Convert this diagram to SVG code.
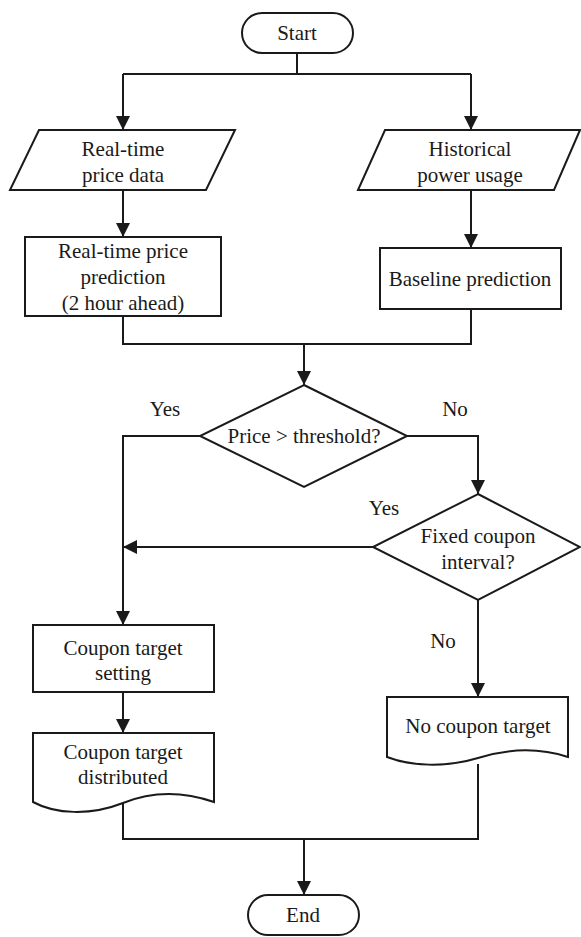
<svg xmlns="http://www.w3.org/2000/svg" width="581" height="937" viewBox="0 0 581 937">
<defs>
<marker id="arr" viewBox="0 0 14 14" refX="14" refY="7" markerWidth="14" markerHeight="14" markerUnits="userSpaceOnUse" orient="auto">
<path d="M0,0 L14,7 L0,14 Z" fill="#1a1a1a"/>
</marker>
<style>
.s{fill:#fff;stroke:#1a1a1a;stroke-width:2}
.c{fill:none;stroke:#1a1a1a;stroke-width:2}
text{font-family:Liberation Serif,DejaVu Serif,serif;font-size:21px;fill:#1a1a1a;text-anchor:middle}
</style>
</defs>
<rect width="581" height="937" fill="#fff"/>
<g id="connectors">
<path class="c" d="M297,53 V74 M123,74 H471"/>
<path class="c" d="M123,74 V130" marker-end="url(#arr)"/>
<path class="c" d="M471,74 V130" marker-end="url(#arr)"/>
<path class="c" d="M123,190 V237" marker-end="url(#arr)"/>
<path class="c" d="M471,190 V248" marker-end="url(#arr)"/>
<path class="c" d="M123,316 V344 H471 V309"/>
<path class="c" d="M304,344 V385" marker-end="url(#arr)"/>
<path class="c" d="M200,436 H123 V625" marker-end="url(#arr)"/>
<path class="c" d="M407,436 H478 V494" marker-end="url(#arr)"/>
<path class="c" d="M373,547 H123" marker-end="url(#arr)"/>
<path class="c" d="M478,600 V697" marker-end="url(#arr)"/>
<path class="c" d="M123,692 V733" marker-end="url(#arr)"/>
<path class="c" d="M123,803 V839 H478 V764"/>
<path class="c" d="M304,839 V895" marker-end="url(#arr)"/>
<text x="165" y="416">Yes</text>
<text x="455" y="416">No</text>
<text x="384" y="515">Yes</text>
<text x="443" y="648">No</text>
</g>
<g id="start">
<rect class="s" x="242" y="13" width="111" height="40" rx="20"/>
<text x="297" y="40">Start</text>
</g>
<g id="rt-data">
<polygon class="s" points="39,130 235,130 206,190 10,190"/>
<text x="123" y="156">Real-time</text>
<text x="123" y="182">price data</text>
</g>
<g id="hist-usage">
<polygon class="s" points="385,130 580,130 554,190 358,190"/>
<text x="470" y="156">Historical</text>
<text x="470" y="182">power usage</text>
</g>
<g id="rt-pred">
<rect class="s" x="25" y="237" width="196" height="79"/>
<text x="123" y="258">Real-time price</text>
<text x="123" y="284">prediction</text>
<text x="123" y="310">(2 hour ahead)</text>
</g>
<g id="baseline">
<rect class="s" x="380" y="248" width="181" height="61"/>
<text x="470" y="286">Baseline prediction</text>
</g>
<g id="price-threshold">
<polygon class="s" points="304,385 407,436 304,487 200,436"/>
<text x="304" y="443">Price &gt; threshold?</text>
</g>
<g id="fixed-interval">
<polygon class="s" points="478,494 580,547 478,600 373,547"/>
<text x="478" y="543">Fixed coupon</text>
<text x="478" y="569">interval?</text>
</g>
<g id="coupon-setting">
<rect class="s" x="33" y="625" width="181" height="67"/>
<text x="123" y="655">Coupon target</text>
<text x="123" y="680">setting</text>
</g>
<g id="coupon-distributed">
<path class="s" d="M33,733 H214 V802 C185,792 155,790 123,803 C90,816 55,814 33,802 Z"/>
<text x="123" y="759">Coupon target</text>
<text x="123" y="784">distributed</text>
</g>
<g id="no-coupon">
<path class="s" d="M387,697 H568 V757 C540,748 510,748 478,758 C445,768 410,766 387,757 Z"/>
<text x="478" y="733">No coupon target</text>
</g>
<g id="end">
<rect class="s" x="248" y="895" width="111" height="40" rx="20"/>
<text x="303" y="922">End</text>
</g>
</svg>
